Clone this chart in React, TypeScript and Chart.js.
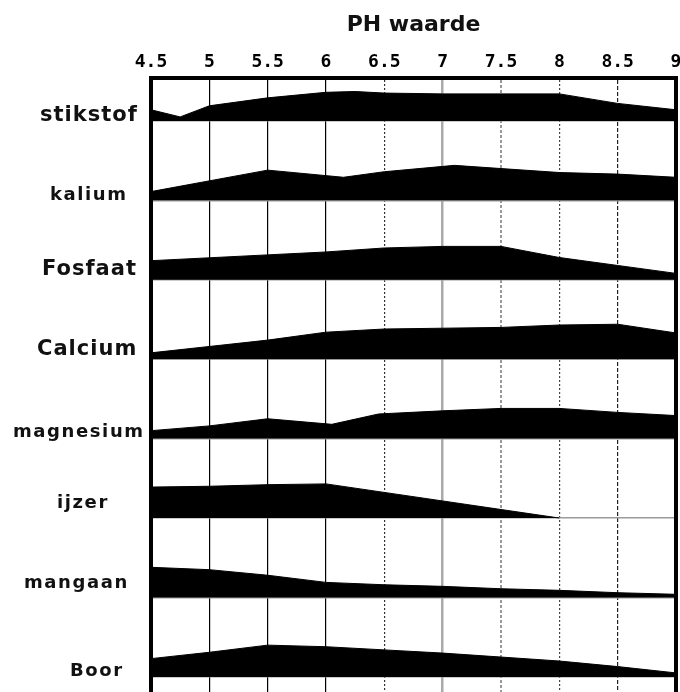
import { useEffect, useRef } from 'react';
import { Chart, registerables } from 'chart.js';

Chart.register(...registerables);

// ---- data ----
const phTicks = [4.5, 5, 5.5, 6, 6.5, 7, 7.5, 8, 8.5, 9];
const nutrients = ['stikstof', 'kalium', 'Fosfaat', 'Calcium', 'magnesium', 'ijzer', 'mangaan', 'Boor'];
const axisTitle = 'PH waarde';

// availability per nutrient (0-100 = one full row height)
const stikstofPH = [4.5, 4.75, 5, 5.5, 6, 6.25, 6.5, 7, 8, 8.5, 9];
const stikstofLevel = [14, 5, 19, 29, 36, 37, 35, 34, 34, 22, 14];

const kaliumPH = [4.5, 5.5, 6.15, 6.5, 7.1, 7.5, 8, 8.5, 9];
const kaliumLevel = [11, 38, 29, 36, 44, 40, 35, 33, 29];

const fosfaatPH = [4.5, 6, 6.5, 7, 7.5, 8, 8.5, 9];
const fosfaatLevel = [24, 35, 40, 42, 42, 28, 18, 8];

const calciumPH = [4.5, 5, 5.5, 6, 6.5, 7, 7.5, 8, 8.5, 9];
const calciumLevel = [8, 16, 24, 34, 38, 39, 40, 43, 44, 33];

const magnesiumPH = [4.5, 5, 5.5, 6.05, 6.45, 7, 7.5, 8, 8.5, 9];
const magnesiumLevel = [10, 16, 25, 18, 31, 35, 38, 38, 33, 29];

const ijzerPH = [4.5, 5, 5.5, 6, 8];
const ijzerLevel = [39, 40, 42, 43, 0];

const mangaanPH = [4.5, 5, 5.5, 6, 6.5, 7, 7.5, 8, 8.5, 9];
const mangaanLevel = [38, 35, 28, 19, 16, 14, 11, 9, 6, 4];

const boorPH = [4.5, 5, 5.5, 6, 6.5, 7, 7.5, 8, 8.5, 9];
const boorLevel = [23, 31, 40, 38, 34, 30, 25, 20, 13, 5];

const seriesPH = [stikstofPH, kaliumPH, fosfaatPH, calciumPH, magnesiumPH, ijzerPH, mangaanPH, boorPH];
const seriesLevel = [stikstofLevel, kaliumLevel, fosfaatLevel, calciumLevel, magnesiumLevel, ijzerLevel, mangaanLevel, boorLevel];

// ---- styles ----
const ROW = 100;
const Y_MIN = -19;
const Y_MAX = 754;
const xGridColor = ['#000', '#000', '#000', '#000', '#333', '#aaa', '#999', '#444', '#222', '#000'];
const xGridWidth = [1, 1.2, 1.2, 1.2, 1.2, 2.5, 2, 1.2, 1.2, 1];
const xGridDash: number[][] = [[], [], [], [], [2, 2], [], [3, 2], [2, 2], [4, 2], []];
const labelSize = [21, 18, 21, 21, 18, 18, 18, 18];
const labelSpacing = [1, 1.6, 1, 1, 1.6, 1.6, 1.6, 1.6];
const labelX = [40, 50, 42, 37, 13, 57, 24, 70];
const labelLift = [0, 0, 5, 4, 2, 10, 9, 1];

const baseOf = (i: number) => (nutrients.length - 1 - i) * ROW;

const rowLabelPlugin = {
  id: 'rowLabels',
  afterDraw(chart: any) {
    const ctx = chart.ctx as CanvasRenderingContext2D;
    const y = chart.scales.y;
    nutrients.forEach((name, i) => {
      const base = y.getPixelForValue(baseOf(i));
      ctx.save();
      ctx.font = `bold ${labelSize[i]}px "DejaVu Sans"`;
      (ctx as any).letterSpacing = `${labelSpacing[i]}px`;
      ctx.fillStyle = '#111';
      ctx.textAlign = 'left';
      ctx.textBaseline = 'alphabetic';
      ctx.fillText(name, labelX[i], base - labelLift[i]);
      ctx.restore();
    });
  },
};

export default function App() {
  const ref = useRef<HTMLCanvasElement | null>(null);

  useEffect(() => {
    if (!ref.current) return;
    const datasets = nutrients.map((name, i) => {
      const base = baseOf(i);
      return {
        label: name,
        data: seriesPH[i].map((x, j) => ({ x, y: base + seriesLevel[i][j] })),
        fill: { value: base },
        backgroundColor: '#000',
        borderColor: '#000',
        borderWidth: 1,
        pointRadius: 0,
        tension: 0,
      };
    });

    const idx = (c: any) => (c && c.tick ? phTicks.indexOf(c.tick.value) : -1);

    const chart = new Chart(ref.current, {
      type: 'line',
      data: { datasets },
      plugins: [rowLabelPlugin],
      options: {
        animation: false,
        responsive: false,
        maintainAspectRatio: false,
        layout: { padding: 0 },
        plugins: { legend: { display: false }, tooltip: { enabled: false } },
        scales: {
          x: {
            type: 'linear',
            position: 'top',
            min: 4.5,
            max: 9,
            afterBuildTicks: (s: any) => {
              s.ticks = phTicks.map((v) => ({ value: v }));
            },
            afterFit: (s: any) => {
              s.height = 78;
              s.paddingLeft = 0;
              s.paddingRight = 0;
            },
            ticks: {
              autoSkip: false,
              maxRotation: 0,
              padding: 5,
              color: '#000',
              font: { family: '"DejaVu Sans Mono"', weight: 'bold', size: 18 },
              callback: (v: any) => String(v),
            },
            grid: {
              drawTicks: false,
              color: (c: any) => xGridColor[idx(c)] ?? '#000',
              lineWidth: (c: any) => xGridWidth[idx(c)] ?? 1,
            },
            border: {
              display: true,
              color: '#000',
              width: 4,
              dash: (c: any) => xGridDash[idx(c)] ?? [],
            },
            title: {
              display: true,
              text: axisTitle,
              color: '#111',
              font: { family: '"DejaVu Sans"', weight: 'bold', size: 22 },
              padding: { top: 12, bottom: 0 },
            },
          },
          y: {
            type: 'linear',
            position: 'left',
            min: Y_MIN,
            max: Y_MAX,
            afterBuildTicks: (s: any) => {
              s.ticks = nutrients.map((_, i) => ({ value: baseOf(i) }));
            },
            afterFit: (s: any) => {
              s.width = 151;
            },
            ticks: { display: false },
            grid: { drawTicks: false, color: '#9a9a9a', lineWidth: 1.5 },
            border: { display: true, color: '#000', width: 4 },
          },
          yRight: {
            type: 'linear',
            position: 'right',
            min: Y_MIN,
            max: Y_MAX,
            afterFit: (s: any) => {
              s.width = 4;
            },
            ticks: { display: false },
            grid: { drawTicks: false, drawOnChartArea: false },
            border: { display: true, color: '#000', width: 4 },
          },
        },
      },
    } as any);
    return () => chart.destroy();
  }, []);

  return (
    <div style={{ position: 'fixed', left: 0, top: 0, width: 680, height: 692, background: '#fff' }}>
      <canvas ref={ref} width={680} height={692} />
    </div>
  );
}
